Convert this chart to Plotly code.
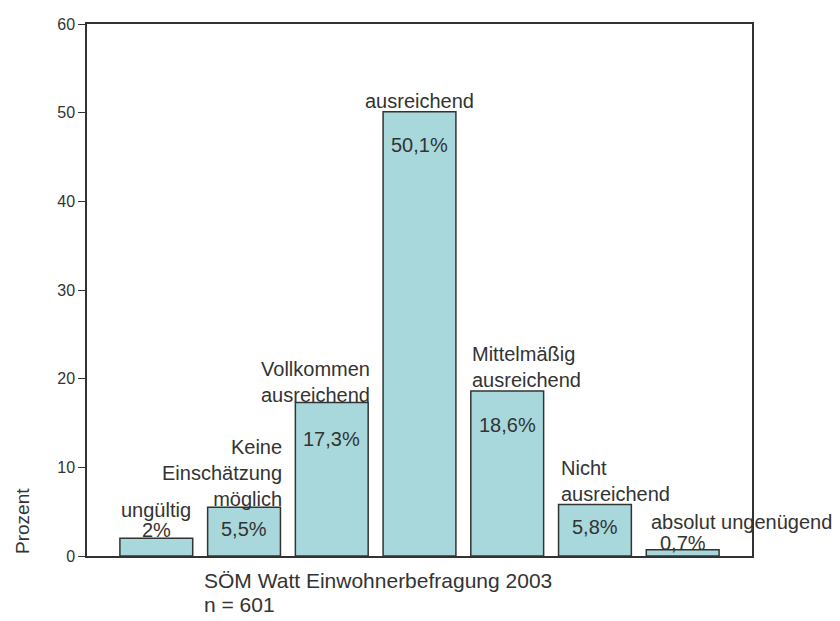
import plotly.graph_objects as go

categories = ["ungültig", "Keine Einschätzung möglich", "Vollkommen ausreichend",
              "ausreichend", "Mittelmäßig ausreichend", "Nicht ausreichend",
              "absolut ungenügend"]
label_text = ["ungültig", "Keine<br>Einschätzung<br>möglich", "Vollkommen<br>ausreichend",
              "ausreichend", "Mittelmäßig<br>ausreichend", "Nicht<br>ausreichend",
              "absolut ungenügend"]
values = [2.0, 5.5, 17.3, 50.1, 18.6, 5.8, 0.7]
pct_text = ["2%", "5,5%", "17,3%", "50,1%", "18,6%", "5,8%", "0,7%"]
y_ticks = [0, 10, 20, 30, 40, 50, 60]

FONT = "Liberation Sans, Arial, sans-serif"
TXT = "#333333"
FS = 20

xs = list(range(len(categories)))
fig = go.Figure(go.Bar(
    x=xs, y=values, width=0.83,
    marker=dict(color="#A8D8DC", line=dict(color="#333333", width=1.5)),
    hoverinfo="skip",
))

# style per label: (xanchor, xoffset in category units, xshift px, yshift px, align)
lab_style = [
    ("center", 0.0, 0, 15, "center"),
    ("right", 0.415, 4, -5, "right"),
    ("center", 0.0, -16, -5, "center"),
    ("center", 0.0, 0, -2, "center"),
    ("left", -0.415, -1, -2, "left"),
    ("left", -0.415, 0, -2, "left"),
    ("left", -0.415, 3, 15, "left"),
]
# percentage label: (yanchor, yshift px)
pct_style = [("bottom", -5), ("top", -9), ("top", -23), ("top", -20),
             ("top", -21), ("top", -9), ("bottom", -6)]

ann = []
for i, v in enumerate(values):
    xa, xo, xs_, ys, al = lab_style[i]
    ann.append(dict(x=i + xo, y=v, xref="x", yref="y", text=label_text[i],
                    showarrow=False, xanchor=xa, yanchor="bottom", align=al,
                    xshift=xs_, yshift=ys,
                    font=dict(family=FONT, size=FS, color=TXT)))
    ya, psh = pct_style[i]
    ann.append(dict(x=i, y=v, xref="x", yref="y", text=pct_text[i],
                    showarrow=False, xanchor="center", yanchor=ya, yshift=psh,
                    font=dict(family=FONT, size=FS, color=TXT)))

ann.append(dict(x=202, y=580, xref="paper", yref="paper", text="SÖM Watt Einwohnerbefragung 2003",
                showarrow=False, xanchor="left", yanchor="middle",
                font=dict(family=FONT, size=21, color=TXT)))
ann.append(dict(x=202, y=604, xref="paper", yref="paper", text="n = 601",
                showarrow=False, xanchor="left", yanchor="middle",
                font=dict(family=FONT, size=21, color=TXT)))
ann.append(dict(x=22, y=521, xref="paper", yref="paper", text="Prozent", textangle=-90,
                showarrow=False, xanchor="center", yanchor="middle",
                font=dict(family=FONT, size=19, color=TXT)))

# convert pixel-placed paper annotations
L, R, T, B = 87, 88, 24, 65
W, H = 840, 621
pw, ph = W - L - R, H - T - B
for a in ann:
    if a["xref"] == "paper":
        a["x"] = (a["x"] - L) / pw
        a["y"] = 1 - (a["y"] - T) / ph

fig.update_layout(
    width=W, height=H,
    margin=dict(l=L, r=R, t=T, b=B),
    plot_bgcolor="white", paper_bgcolor="white",
    showlegend=False,
    annotations=ann,
    xaxis=dict(range=[-0.79, 6.79], showticklabels=False, ticks="", showgrid=False,
               zeroline=False, showline=True, linecolor="#333333", linewidth=1.5, mirror=True),
    yaxis=dict(range=[0, 60], tickvals=y_ticks, ticktext=[str(t) for t in y_ticks],
               ticks="outside", ticklen=7, tickcolor="#333333", showgrid=False, zeroline=False,
               showline=True, linecolor="#333333", linewidth=1.5, mirror=True,
               tickfont=dict(family=FONT, size=16, color=TXT)),
)
fig.write_html("out.html")
